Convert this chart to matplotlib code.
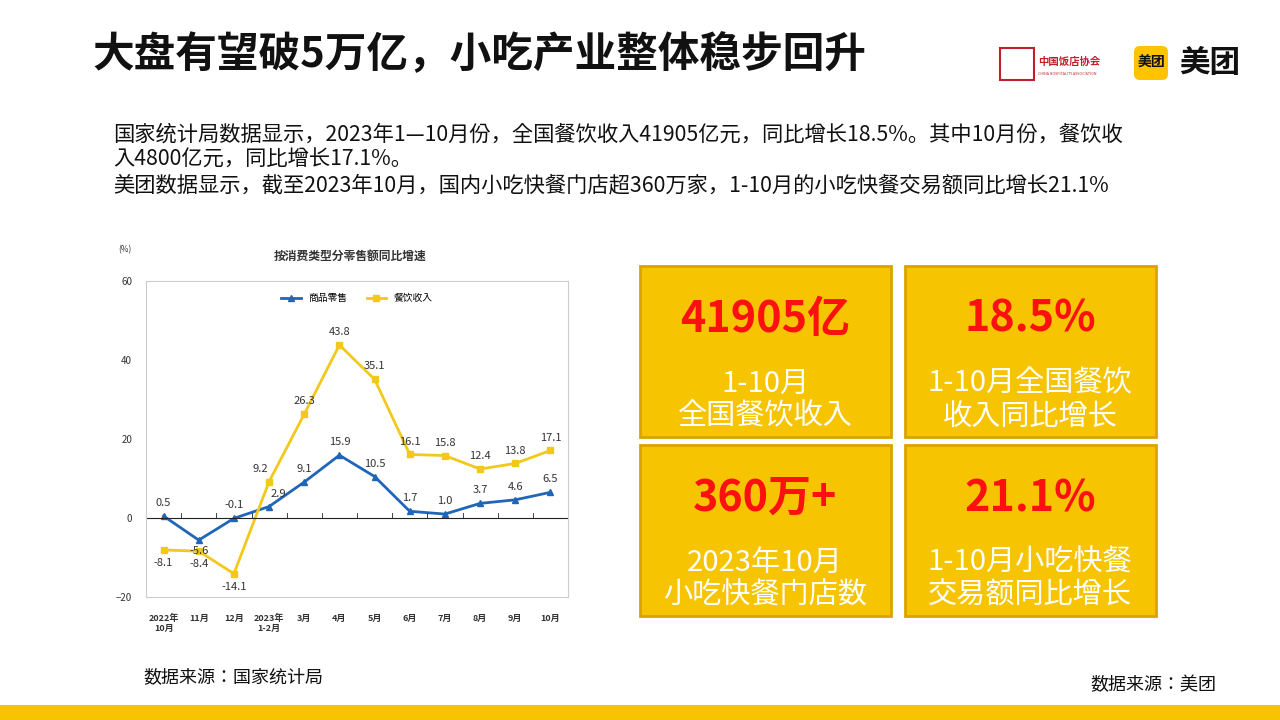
import matplotlib.pyplot as plt
from matplotlib.patches import Rectangle, FancyBboxPatch
from matplotlib import font_manager

names = sorted({f.name for f in font_manager.fontManager.ttflist if 'CJK' in f.name})
cjk = names[0] if names else 'DejaVu Sans'
for pref in ['Noto Sans CJK SC', 'Noto Sans CJK JP']:
    if pref in names:
        cjk = pref
        break
plt.rcParams['font.family'] = [cjk, 'DejaVu Sans']

categories = ['2022年\n10月', '11月', '12月', '2023年\n1-2月', '3月', '4月', '5月',
              '6月', '7月', '8月', '9月', '10月']
goods_retail = [0.5, -5.6, -0.1, 2.9, 9.1, 15.9, 10.5, 1.7, 1.0, 3.7, 4.6, 6.5]
catering = [-8.1, -8.4, -14.1, 9.2, 26.3, 43.8, 35.1, 16.1, 15.8, 12.4, 13.8, 17.1]

card_values = ['41905亿', '18.5%', '360万+', '21.1%']
card_labels = ['1-10月\n全国餐饮收入', '1-10月全国餐饮\n收入同比增长',
               '2023年10月\n小吃快餐门店数', '1-10月小吃快餐\n交易额同比增长']

W, H = 1280, 720
fig = plt.figure(figsize=(12.8, 7.2), dpi=100)
bg = fig.add_axes([0, 0, 1, 1])
bg.set_xlim(0, W)
bg.set_ylim(H, 0)
bg.axis('off')

# title and intro text
bg.text(92, 55, '大盘有望破5万亿，小吃产业整体稳步回升', fontsize=30, fontweight='bold',
        va='center', ha='left', color='#111111')
bg.text(113, 160, '国家统计局数据显示，2023年1—10月份，全国餐饮收入41905亿元，同比增长18.5%。其中10月份，餐饮收\n'
        '入4800亿元，同比增长17.1%。\n美团数据显示，截至2023年10月，国内小吃快餐门店超360万家，1-10月的小吃快餐交易额同比增长21.1%',
        fontsize=15.3, va='center', ha='left', color='#111111', linespacing=1.2)

# logos
bg.text(1038, 62, '中国饭店协会', fontsize=7.5, color='#c0202a', fontweight='bold', va='center')
bg.text(1038, 74, 'CHINA HOSPITALITY ASSOCIATION', fontsize=2.6, color='#c0202a', va='center')
bg.add_patch(Rectangle((1000, 48), 34, 32, facecolor='none', edgecolor='#c0202a', lw=1.5))
bg.add_patch(FancyBboxPatch((1134, 46), 34, 34, boxstyle='round,pad=0,rounding_size=6',
                            facecolor='#FFC300', edgecolor='none'))
bg.text(1151, 63, '美团', fontsize=10, fontweight='bold', ha='center', va='center', color='#111111')
bg.text(1210, 63, '美团', fontsize=22, fontweight='bold', ha='center', va='center', color='#111111')

# cards
card_pos = [(640, 266), (905, 266), (640, 445), (905, 445)]
for (x, y), v, lab in zip(card_pos, card_values, card_labels):
    bg.add_patch(Rectangle((x, y), 251, 171, facecolor='#F6C400', edgecolor='#D9A400', lw=2))
    bg.text(x + 125, y + 53, v, fontsize=31, fontweight='bold', color='#FF1010', ha='center', va='center')
    bg.text(x + 125, y + 134, lab, fontsize=21, color='white', ha='center', va='center', linespacing=1.12)

# sources and bottom band
bg.text(143, 677, '数据来源：国家统计局', fontsize=13, va='center', color='#111111')
bg.text(1090, 685, '数据来源：美团', fontsize=13, va='center', color='#111111')
bg.add_patch(Rectangle((0, 705), W, 15, facecolor='#F6C400', edgecolor='none'))

# chart
ax = fig.add_axes([146 / W, 1 - 597 / H, 422 / W, 316 / H])
x = list(range(len(categories)))
ax.plot(x, goods_retail, color='#1F66B8', lw=2, marker='^', ms=4, label='商品零售')
ax.plot(x, catering, color='#F2C91A', lw=2, marker='s', ms=4, label='餐饮收入')
ax.set_xlim(-0.5, 11.5)
ax.set_ylim(-20, 60)
ax.set_yticks([-20, 0, 20, 40, 60])
ax.tick_params(axis='y', labelsize=7, length=0, colors='#333333', pad=10)
ax.set_xticks(x)
ax.set_xticklabels(categories, fontsize=6.5, fontweight='bold', color='#333333')
ax.tick_params(axis='x', length=0, pad=12)
ax.axhline(0, color='#222222', lw=0.8)
for s in ax.spines.values():
    s.set_color('#cccccc')
for i in range(1, 12):
    ax.plot([i - 0.5, i - 0.5], [0, 1.2], color='#222222', lw=0.6)
for i, (g, c) in enumerate(zip(goods_retail, catering)):
    dx = 0.25 if i == 3 else 0
    gy = g + 2.0 if i != 1 else g - 1.5
    ax.text(i + dx, gy, f'{g}', fontsize=8, ha='center',
            va='bottom' if i != 1 else 'top', color='#333333')
    cdx = -0.25 if i == 3 else 0
    ax.text(i + cdx, c + 2.0 if c >= 0 else c - 2.0, f'{c}', fontsize=8, ha='center',
            va='bottom' if c >= 0 else 'top', color='#333333')
ax.legend(loc='upper center', ncol=2, frameon=False, fontsize=7, bbox_to_anchor=(0.5, 0.99))
bg.text(118, 250, '(%)', fontsize=6, color='#333333', va='center')
bg.text(350, 256, '按消费类型分零售额同比增速', fontsize=8.5, fontweight='bold', ha='center', va='center', color='#333333')

fig.savefig('out.png', dpi=100)
